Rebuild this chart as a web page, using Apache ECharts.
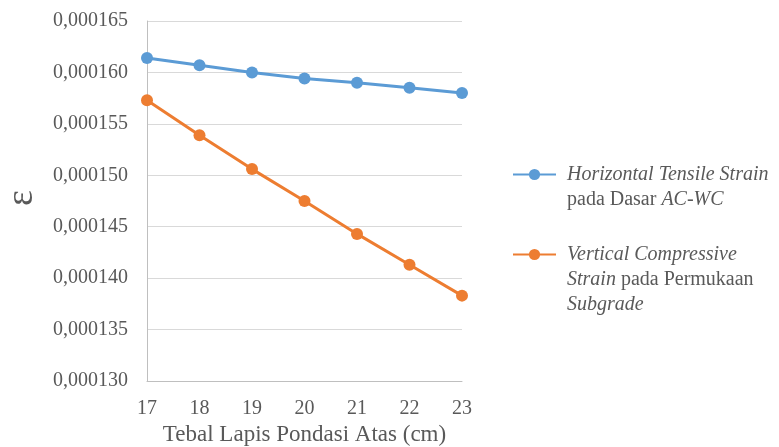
<!DOCTYPE html>
<html>
<head>
<meta charset="utf-8">
<script src="https://cdn.jsdelivr.net/npm/echarts@6/dist/echarts.min.js"></script>
<style>
  html, body { margin: 0; padding: 0; background: #fff; }
  #chart { width: 779px; height: 447px; }
</style>
</head>
<body>
<div id="chart"></div>
<script>
// Base-course thickness (cm)
const thickness = ['17', '18', '19', '20', '21', '22', '23'];

// Horizontal tensile strain at the bottom of the AC-WC layer
const tensileStrain = [0.0001614, 0.0001607, 0.0001600, 0.0001594, 0.0001590, 0.0001585, 0.0001580];

// Vertical compressive strain on the subgrade surface
const compressiveStrain = [0.0001573, 0.0001539, 0.0001506, 0.0001475, 0.0001443, 0.0001413, 0.0001383];

const seriesNames = [
  'Horizontal Tensile Strain pada Dasar AC-WC',
  'Vertical Compressive Strain pada Permukaan Subgrade'
];

const legendLabels = {
  [seriesNames[0]]: '{i|Horizontal Tensile Strain}\n{n|pada Dasar }{i|AC-WC}',
  [seriesNames[1]]: '{i|Vertical Compressive}\n{i|Strain}{n| pada Permukaan}\n{i|Subgrade}'
};

const serif = 'Liberation Serif';
const textGray = '#595959';

const chart = echarts.init(document.getElementById('chart'), null, { renderer: 'canvas' });

chart.setOption({
  animation: false,
  backgroundColor: '#ffffff',
  grid: { left: 147, right: 317, top: 21, bottom: 66, containLabel: false, outerBoundsMode: 'none' },
  xAxis: {
    type: 'category',
    data: thickness,
    boundaryGap: false,
    name: 'Tebal Lapis Pondasi Atas (cm)',
    nameLocation: 'middle',
    nameGap: 42,
    nameTextStyle: { fontFamily: serif, fontSize: 23, color: textGray },
    axisLine: { lineStyle: { color: '#BFBFBF', width: 1 } },
    axisTick: { show: false },
    axisLabel: { fontFamily: serif, fontSize: 20, color: textGray, margin: 18 },
    splitLine: { show: false }
  },
  yAxis: {
    type: 'value',
    min: 0.00013,
    max: 0.000165,
    interval: 0.000005,
    name: 'ε',
    nameLocation: 'middle',
    nameRotate: 90,
    nameGap: 106,
    nameTextStyle: { fontFamily: serif, fontSize: 38, color: textGray, padding: [0, 0, 0, 6] },
    axisLine: { show: true, lineStyle: { color: '#BFBFBF', width: 1 } },
    axisTick: { show: false },
    axisLabel: {
      fontFamily: serif,
      fontSize: 20,
      color: textGray,
      margin: 19,
      formatter: v => v.toFixed(6).replace('.', ',')
    },
    splitLine: { lineStyle: { color: '#D9D9D9', width: 1 } }
  },
  legend: {
    orient: 'vertical',
    left: 507,
    top: 132,
    itemWidth: 43,
    itemHeight: 14,
    itemGap: -20,
    formatter: name => legendLabels[name],
    textStyle: {
      fontFamily: serif,
      fontSize: 20,
      color: textGray,
      lineHeight: 25,
      rich: {
        i: { fontFamily: serif, fontSize: 20, fontStyle: 'italic', color: textGray, lineHeight: 25 },
        n: { fontFamily: serif, fontSize: 20, color: textGray, lineHeight: 25 }
      }
    },
    data: [
      { name: seriesNames[0], textStyle: { padding: [25, 0, 0, 6] } },
      { name: seriesNames[1], textStyle: { padding: [50, 0, 0, 6] } }
    ]
  },
  series: [
    {
      name: seriesNames[0],
      type: 'line',
      data: tensileStrain,
      symbol: 'circle',
      symbolSize: 12,
      itemStyle: { color: '#5B9BD5' },
      lineStyle: { color: '#5B9BD5', width: 3 }
    },
    {
      name: seriesNames[1],
      type: 'line',
      data: compressiveStrain,
      symbol: 'circle',
      symbolSize: 12,
      itemStyle: { color: '#ED7D31' },
      lineStyle: { color: '#ED7D31', width: 3 }
    }
  ]
});
</script>
</body>
</html>
